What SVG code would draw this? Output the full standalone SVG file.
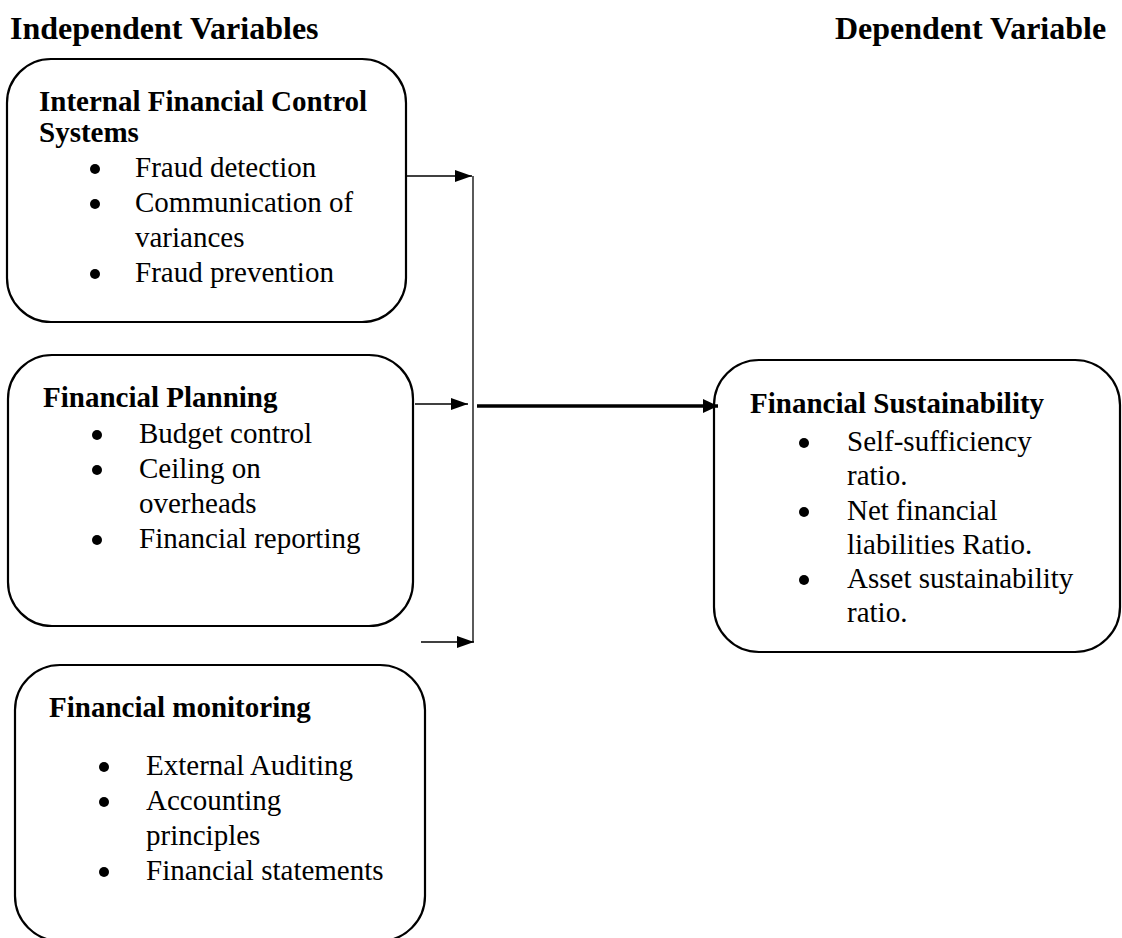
<svg xmlns="http://www.w3.org/2000/svg" width="1122" height="938" viewBox="0 0 1122 938">
<style>
.box{fill:#fff;stroke:#000;stroke-width:2.2}
.hd{font-family:"Liberation Serif","Times New Roman",serif;font-weight:bold;font-size:32px;fill:#000}
.t{font-family:"Liberation Serif","Times New Roman",serif;font-weight:bold;font-size:29px;fill:#000}
.b{font-family:"Liberation Serif","Times New Roman",serif;font-size:29px;fill:#000}
.thin{stroke:#000;stroke-width:1.3;fill:none}
.thick{stroke:#000;stroke-width:3.3;fill:none}
</style>
<defs>
<marker id="ah" markerWidth="18" markerHeight="12" refX="17" refY="6" orient="auto" markerUnits="userSpaceOnUse">
<path d="M0,0 L17,6 L0,12 Z" fill="#000"/>
</marker>
<marker id="ah2" markerWidth="16" markerHeight="14" refX="15" refY="7" orient="auto" markerUnits="userSpaceOnUse">
<path d="M0,0 L15,7 L0,14 Z" fill="#000"/>
</marker>
</defs>
<rect width="1122" height="938" fill="#fff"/>
<g id="headers">
<text class="hd" x="10" y="39">Independent Variables</text>
<text class="hd" x="835" y="39">Dependent Variable</text>
</g>
<g id="node-internal-control">
<rect class="box" x="7" y="59" width="399" height="263" rx="44" ry="44"/>
<text class="t" x="39" y="111">Internal Financial Control</text>
<text class="t" x="39" y="142">Systems</text>
<circle cx="95" cy="169" r="5"/><text class="b" x="135" y="177">Fraud detection</text>
<circle cx="95" cy="204" r="5"/><text class="b" x="135" y="212">Communication of</text>
<text class="b" x="135" y="247">variances</text>
<circle cx="95" cy="274" r="5"/><text class="b" x="135" y="282">Fraud prevention</text>
</g>
<g id="node-planning">
<rect class="box" x="8" y="355" width="405" height="271" rx="44" ry="44"/>
<text class="t" x="43" y="407">Financial Planning</text>
<circle cx="97" cy="435" r="5"/><text class="b" x="139" y="443">Budget control</text>
<circle cx="97" cy="470" r="5"/><text class="b" x="139" y="478">Ceiling on</text>
<text class="b" x="139" y="513">overheads</text>
<circle cx="97" cy="540" r="5"/><text class="b" x="139" y="548">Financial reporting</text>
</g>
<g id="node-monitoring">
<rect class="box" x="15" y="665" width="410" height="276" rx="45" ry="45"/>
<text class="t" x="49" y="717">Financial monitoring</text>
<circle cx="104" cy="767" r="5"/><text class="b" x="146" y="775">External Auditing</text>
<circle cx="104" cy="802" r="5"/><text class="b" x="146" y="810">Accounting</text>
<text class="b" x="146" y="845">principles</text>
<circle cx="104" cy="872" r="5"/><text class="b" x="146" y="880">Financial statements</text>
</g>
<g id="node-sustainability">
<rect class="box" x="714" y="360" width="406" height="292" rx="45" ry="45"/>
<text class="t" x="750" y="413">Financial Sustainability</text>
<circle cx="804" cy="443" r="5"/><text class="b" x="847" y="451">Self-sufficiency</text>
<text class="b" x="847" y="485">ratio.</text>
<circle cx="804" cy="512" r="5"/><text class="b" x="847" y="520">Net financial</text>
<text class="b" x="847" y="554">liabilities Ratio.</text>
<circle cx="804" cy="580" r="5"/><text class="b" x="847" y="588">Asset sustainability</text>
<text class="b" x="847" y="622">ratio.</text>
</g>
<g id="connectors">
<line class="thin" x1="473" y1="176" x2="473" y2="642"/>
<line class="thin" x1="407" y1="176" x2="472" y2="176" marker-end="url(#ah)"/>
<line class="thin" x1="415" y1="404" x2="468" y2="404" marker-end="url(#ah)"/>
<line class="thin" x1="421" y1="642" x2="474" y2="642" marker-end="url(#ah)"/>
<line class="thick" x1="477" y1="406" x2="718" y2="406" marker-end="url(#ah2)"/>
</g>
</svg>
